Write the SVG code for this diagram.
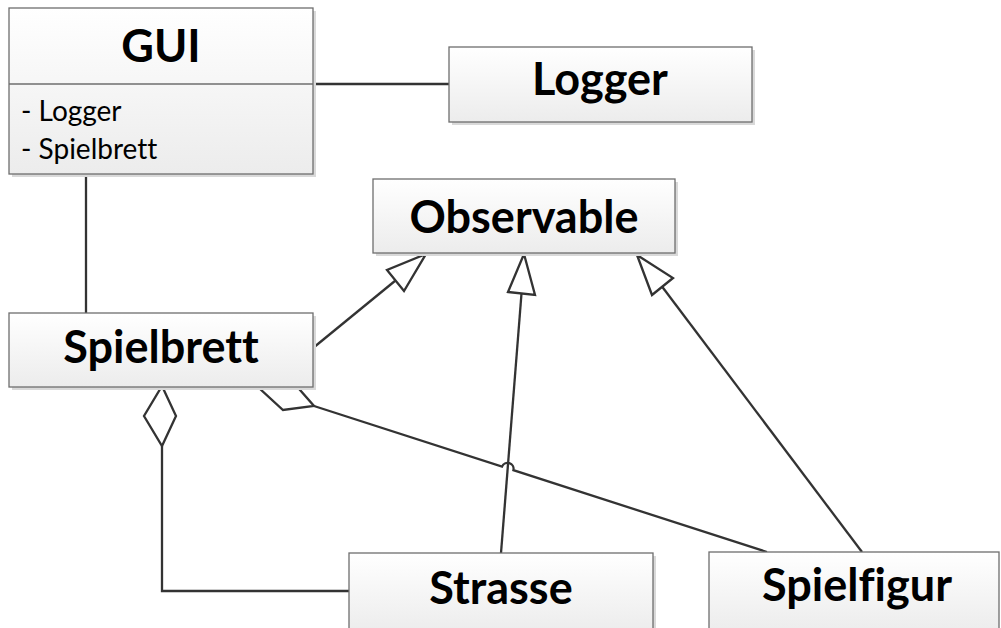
<svg xmlns="http://www.w3.org/2000/svg" width="1001" height="628" viewBox="0 0 1001 628">
  <defs>
    <linearGradient id="boxFill" x1="0" y1="0" x2="0" y2="1">
      <stop offset="0" stop-color="#ffffff"/>
      <stop offset="1" stop-color="#ececec"/>
    </linearGradient>
    <style>
      .shadow { fill: #d9d9d9; }
      .box { fill: url(#boxFill); stroke: #6e6e6e; stroke-width: 1.3; }
      .sep { stroke: #6e6e6e; stroke-width: 1.3; }
      text { font-variant-ligatures: none; }
      .title { font-family: Lato, "Liberation Sans", sans-serif; font-weight: 700; font-size: 45px; fill: #000; text-anchor: middle; }
      .attr { font-family: Lato, "Liberation Sans", sans-serif; font-size: 28px; fill: #000; }
      .conn { fill: none; stroke: #333333; stroke-width: 2.3; stroke-linejoin: miter; }
      .head { fill: #ffffff; stroke: #333333; stroke-width: 2.3; stroke-linejoin: miter; }
    </style>
  </defs>
  <rect width="1001" height="628" fill="#ffffff"/>

  <!-- connectors -->
  <g id="connectors">
    <!-- GUI to Logger -->
    <line class="conn" x1="313" y1="84" x2="449" y2="84"/>
    <!-- GUI to Spielbrett -->
    <line class="conn" x1="86" y1="174" x2="86" y2="313"/>
    <!-- generalizations to Observable -->
    <line class="conn" x1="313" y1="348" x2="395.5" y2="280.5"/>
    <polygon class="head" points="426,254 387,270 404,291"/>
    <line class="conn" x1="501" y1="553" x2="521.5" y2="293.5"/>
    <polygon class="head" points="524,254 508,292 535,295"/>
    <line class="conn" x1="862" y1="552" x2="662" y2="286.5"/>
    <polygon class="head" points="637,255 652,295 673,278"/>
    <!-- aggregation Spielbrett to Strasse -->
    <polyline class="conn" points="162,446 162,591 349,591"/>
    <polygon class="head" points="162,386 176,416 162,446 144,416"/>
    <!-- aggregation Spielbrett to Spielfigur, hopping over the Strasse line -->
    <path class="conn" d="M314,406 L502,466.6 A6,6 0 0 1 513.4,470.2 L767,552"/>
    <polygon class="head" points="258,387 293,382 314,406 283,410"/>
  </g>

  <!-- GUI class -->
  <g id="gui">
    <rect class="shadow" x="12" y="11" width="304" height="166"/>
    <rect class="box" x="9" y="8" width="304" height="166"/>
    <line class="sep" x1="9" y1="84" x2="313" y2="84"/>
    <text class="title" x="161" y="62">GUI</text>
    <text class="attr" x="21" y="121">- Logger</text>
    <text class="attr" x="21" y="159">- Spielbrett</text>
  </g>

  <!-- Logger class -->
  <g id="logger">
    <rect class="shadow" x="452" y="50" width="303" height="75"/>
    <rect class="box" x="449" y="47" width="303" height="75"/>
    <text class="title" x="600" y="95">Logger</text>
  </g>

  <!-- Observable class -->
  <g id="observable">
    <rect class="shadow" x="376" y="182" width="302" height="74"/>
    <rect class="box" x="373" y="179" width="302" height="74"/>
    <text class="title" x="524" y="233">Observable</text>
  </g>

  <!-- Spielbrett class -->
  <g id="spielbrett">
    <rect class="shadow" x="12" y="316" width="304" height="74"/>
    <rect class="box" x="9" y="313" width="304" height="74"/>
    <text class="title" x="161" y="363">Spielbrett</text>
  </g>

  <!-- Strasse class -->
  <g id="strasse">
    <rect class="shadow" x="352" y="556" width="304" height="80"/>
    <rect class="box" x="349" y="553" width="304" height="80"/>
    <text class="title" x="501" y="604">Strasse</text>
  </g>

  <!-- Spielfigur class -->
  <g id="spielfigur">
    <rect class="box" x="709" y="552" width="290" height="80"/>
    <text class="title" x="857" y="601">Spielfigur</text>
  </g>
</svg>
